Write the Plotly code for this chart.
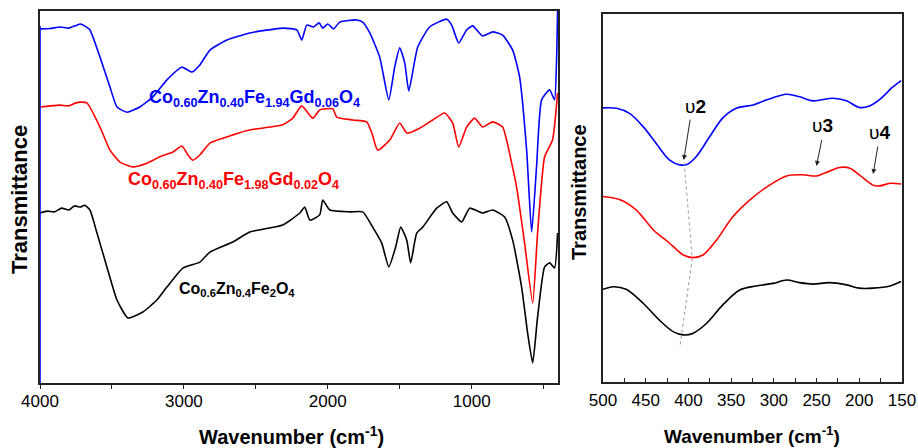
import plotly.graph_objects as go

# ---------------- Left panel data (full FTIR spectra) ----------------
wn_blue = [4000, 3930, 3860, 3800, 3750, 3720, 3690, 3653, 3583, 3514, 3465, 3396, 3306, 3215, 3118,
           3014, 2944, 2889, 2819, 2701, 2542, 2313, 2215, 2181, 2146, 2100, 2060, 2035, 2000, 1960,
           1917, 1799, 1757, 1708, 1639, 1576, 1535, 1500, 1465, 1437, 1375, 1292, 1174, 1139, 1090,
           1035, 993, 924, 854, 785, 715, 667, 618, 583, 549, 514, 458, 424, 410, 403]
t_blue = [95.2, 95.3, 95.7, 95.4, 96.1, 96.5, 96.0, 94.9, 87.6, 79.6, 74.2, 72.8, 74.2, 76.9, 81.5,
          84.9, 83.6, 85.5, 89.5, 92.2, 94.1, 95.4, 94.9, 92.2, 96.2, 95.7, 96.8, 95.4, 96.5, 95.2,
          97.0, 97.6, 97.0, 94.1, 87.6, 76.1, 84.9, 90.1, 86.0, 78.5, 90.3, 95.7, 97.8, 96.2, 91.4,
          94.9, 96.0, 93.3, 94.4, 93.5, 89.5, 82.3, 62.6, 40.6, 58.1, 76.1, 78.8, 76.1, 86.8, 100.0]

wn_red = [4000, 3930, 3860, 3800, 3750, 3720, 3674, 3583, 3514, 3444, 3354, 3257, 3167, 3076, 3014,
          2972, 2938, 2889, 2819, 2660, 2542, 2313, 2243, 2181, 2104, 2056, 1965, 1938, 1826, 1729,
          1694, 1653, 1569, 1500, 1451, 1361, 1271, 1188, 1132, 1090, 1035, 979, 924, 854, 785,
          722, 688, 632, 576, 542, 493, 438, 403]
t_red = [74.2, 74.5, 74.7, 74.5, 75.3, 75.5, 75.3, 68.8, 62.6, 59.4, 58.1, 59.1, 60.8, 62.1, 63.7,
         61.3, 59.9, 61.3, 64.5, 66.7, 68.0, 69.4, 71.2, 74.5, 71.2, 73.4, 73.7, 71.5, 70.7, 70.2,
         67.2, 62.6, 65.3, 69.9, 67.2, 68.5, 70.7, 72.6, 69.9, 63.4, 68.8, 71.2, 68.8, 70.2, 68.8,
         59.1, 52.7, 37.6, 21.5, 40.3, 60.8, 65.3, 78.0]

wn_black = [4000, 3950, 3900, 3850, 3800, 3760, 3720, 3690, 3653, 3604, 3535, 3465, 3389, 3285, 3188,
            3118, 3007, 2889, 2819, 2660, 2542, 2313, 2194, 2160, 2125, 2056, 2035, 1986, 1847, 1757,
            1688, 1625, 1576, 1528, 1493, 1451, 1424, 1382, 1340, 1243, 1174, 1132, 1069, 1014, 924,
            854, 771, 715, 653, 611, 576, 542, 493, 458, 424, 403]
t_black = [45.7, 46.2, 46.0, 47.0, 46.5, 47.6, 47.3, 47.8, 46.5, 40.3, 31.2, 22.3, 17.5, 19.1, 22.3,
           25.8, 30.9, 32.5, 35.2, 37.9, 40.6, 42.5, 45.7, 47.3, 43.8, 45.2, 49.2, 46.5, 46.0, 46.0,
           41.9, 37.6, 31.2, 36.6, 41.9, 38.4, 32.3, 40.3, 41.9, 47.0, 48.7, 45.7, 43.3, 47.0, 45.7,
           46.5, 44.6, 38.4, 25.8, 13.4, 5.4, 17.7, 31.2, 32.3, 30.9, 40.3]

left_ticks = [4000, 3000, 2000, 1000]

# ---------------- Right panel data (500-150 cm-1) ----------------
wn_blue_r = [500, 484, 469, 453, 438, 422, 410, 401, 391, 375, 360, 344, 324, 309, 285, 270, 254,
             231, 215, 200, 188, 176, 161, 151]
t_blue_r = [74.5, 74.4, 73.0, 69.4, 64.9, 60.3, 59.0, 59.2, 61.2, 66.7, 71.7, 74.4, 75.3, 76.6, 78.2,
            77.5, 76.4, 77.1, 76.4, 74.6, 75.0, 76.8, 80.1, 81.9]

wn_red_r = [500, 480, 461, 441, 422, 406, 395, 383, 367, 348, 328, 305, 285, 266, 250, 239, 223,
            211, 200, 184, 176, 164, 151]
t_red_r = [50.4, 49.5, 46.7, 41.3, 37.7, 34.5, 33.8, 34.5, 38.6, 44.9, 49.5, 53.5, 56.0, 56.3, 56.0,
           56.9, 58.3, 58.1, 56.3, 53.5, 53.3, 54.0, 53.8]

wn_black_r = [500, 488, 473, 453, 434, 418, 406, 395, 379, 360, 340, 321, 301, 285, 270, 254, 235,
              215, 200, 184, 164, 151]
t_black_r = [25.2, 25.9, 25.2, 21.4, 16.8, 13.7, 12.8, 13.2, 15.9, 20.9, 25.0, 26.1, 26.8, 27.7, 27.0,
             26.6, 27.0, 26.4, 25.5, 25.5, 26.1, 27.3]

# dotted guide through the ν2 minima
wn_guide = [405, 395.5, 410]
t_guide = [59.6, 33.6, 9.6]

right_ticks = [500, 450, 400, 350, 300, 250, 200, 150]

# band labels: (text, label x, label y, arrow head x, head y, tail x, tail y)
band_text = ["υ<b>2</b>", "υ<b>3</b>", "υ<b>4</b>"]
band_lab_x = [391.5, 242.7, 176.0]
band_lab_y = [75.0, 69.6, 67.9]
band_head_x = [405.5, 250.1, 183.8]
band_head_y = [60.3, 58.7, 56.5]
band_tail_x = [397.7, 243.6, 178.0]
band_tail_y = [71.7, 66.2, 64.4]

BLUE = "#0000ff"
RED = "#ff0000"
BLACK = "#000000"
FONT = "Liberation Sans, Arial, sans-serif"

fig = go.Figure()
for x, y, c in [(wn_blue, t_blue, BLUE), (wn_red, t_red, RED), (wn_black, t_black, BLACK)]:
    fig.add_trace(go.Scatter(x=x, y=y, mode="lines", xaxis="x", yaxis="y",
                             line=dict(color=c, width=1.6, shape="spline", smoothing=0.5),
                             showlegend=False, hoverinfo="skip"))
for x, y, c in [(wn_blue_r, t_blue_r, BLUE), (wn_red_r, t_red_r, RED), (wn_black_r, t_black_r, BLACK)]:
    fig.add_trace(go.Scatter(x=x, y=y, mode="lines", xaxis="x2", yaxis="y2",
                             line=dict(color=c, width=1.6, shape="spline", smoothing=0.9),
                             showlegend=False, hoverinfo="skip"))
fig.add_trace(go.Scatter(x=wn_guide, y=t_guide, mode="lines", xaxis="x2", yaxis="y2",
                         line=dict(color="#999999", width=1, dash="dot"),
                         showlegend=False, hoverinfo="skip"))

fig.update_layout(
    template="none",
    width=918, height=448,
    margin=dict(l=0, r=0, t=0, b=0, pad=0),
    paper_bgcolor="white", plot_bgcolor="white",
    font=dict(family=FONT, color="black"),
    showlegend=False,
    xaxis=dict(domain=[40 / 918, 558 / 918], range=[4000, 400], tickvals=left_ticks,
               automargin=False, ticklabelstandoff=-2,
               ticks="outside", ticklen=4, tickwidth=1.2, tickcolor="#222",
               minor=dict(dtick=500, tick0=0, ticks="outside", ticklen=4, tickwidth=1.2, tickcolor="#222"),
               showline=True, linecolor="#222", linewidth=1.5, mirror=True,
               showgrid=False, zeroline=False, tickfont=dict(size=17, family=FONT)),
    yaxis=dict(domain=[65 / 448, 437 / 448], range=[0, 100], showticklabels=False, ticks="",
               automargin=False,
               showline=True, linecolor="#222", linewidth=1.5, mirror=True,
               showgrid=False, zeroline=False),
    xaxis2=dict(domain=[603 / 918, 902 / 918], range=[500, 150], tickvals=right_ticks,
                automargin=False, ticklabelstandoff=2,
                ticks="inside", ticklen=4, tickwidth=1.2, tickcolor="#222",
                minor=dict(dtick=25, tick0=0, ticks="inside", ticklen=4, tickwidth=1.2, tickcolor="#222"),
                showline=True, linecolor="#222", linewidth=1.5, mirror=True,
                showgrid=False, zeroline=False, anchor="y2", tickfont=dict(size=17, family=FONT)),
    yaxis2=dict(domain=[66 / 448, 434 / 448], range=[0, 100], showticklabels=False, ticks="",
                automargin=False,
                showline=True, linecolor="#222", linewidth=1.5, mirror=True,
                showgrid=False, zeroline=False, anchor="x2"),
)

# blue left spine of the left panel
fig.add_shape(type="line", xref="x", yref="y", x0=4000, x1=4000, y0=0, y1=96,
              line=dict(color=BLUE, width=1.6))

ann = [
    dict(text="<b>Co<sub>0.60</sub>Zn<sub>0.40</sub>Fe<sub>1.94</sub>Gd<sub>0.06</sub>O<sub>4</sub></b>",
         xref="paper", yref="paper", x=254 / 918, y=1 - 99 / 448, font=dict(size=18, color=BLUE)),
    dict(text="<b>Co<sub>0.60</sub>Zn<sub>0.40</sub>Fe<sub>1.98</sub>Gd<sub>0.02</sub>O<sub>4</sub></b>",
         xref="paper", yref="paper", x=234 / 918, y=1 - 180 / 448, font=dict(size=18, color=RED)),
    dict(text="<b>Co<sub>0.6</sub>Zn<sub>0.4</sub>Fe<sub>2</sub>O<sub>4</sub></b>",
         xref="paper", yref="paper", x=237 / 918, y=1 - 289 / 448, font=dict(size=16, color=BLACK)),
    dict(text="<b>Wavenumber (cm<sup>-1</sup>)</b>", xref="paper", yref="paper",
         x=291 / 918, y=1 - 435 / 448, font=dict(size=20)),
    dict(text="<b>Wavenumber (cm<sup>-1</sup>)</b>", xref="paper", yref="paper",
         x=752 / 918, y=1 - 435 / 448, font=dict(size=19)),
    dict(text="<b>Transmittance</b>", xref="paper", yref="paper", textangle=-90,
         x=19 / 918, y=1 - 200 / 448, font=dict(size=22)),
    dict(text="<b>Transmittance</b>", xref="paper", yref="paper", textangle=-90,
         x=579 / 918, y=1 - 192 / 448, font=dict(size=20)),
]
for a in ann:
    a.update(showarrow=False, xanchor="center", yanchor="middle")
    a["font"].setdefault("family", FONT)
    a["font"].setdefault("color", "black")
    fig.add_annotation(**a)

for txt, lx, ly, hx, hy, tx, ty in zip(band_text, band_lab_x, band_lab_y, band_head_x, band_head_y,
                                      band_tail_x, band_tail_y):
    fig.add_annotation(xref="x2", yref="y2", x=hx, y=hy, ax=tx, ay=ty, axref="x2", ayref="y2",
                       text="", showarrow=True, arrowhead=2, arrowsize=1, arrowwidth=1,
                       arrowcolor="#222")
    fig.add_annotation(xref="x2", yref="y2", x=lx, y=ly, text=txt, showarrow=False,
                       font=dict(size=19, family=FONT, color="black"))

# remove the browser's default page margin so the 918x448 figure fills the window exactly
fig.write_html("out.html", config={"displayModeBar": False},
               post_script="document.body.style.margin='0';document.body.style.overflow='hidden';")
